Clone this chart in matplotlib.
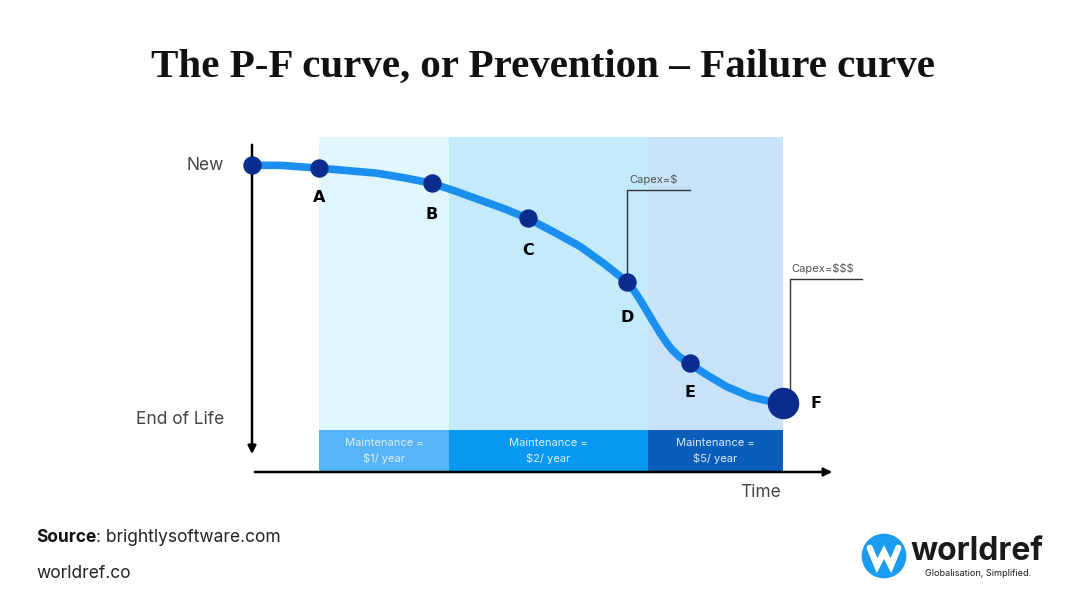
import numpy as np
import matplotlib
matplotlib.use("Agg")
import matplotlib.pyplot as plt
from matplotlib.patches import Circle

# curve samples (time, condition)
curve_t = [0, 5.3, 11.5, 16.8, 21.4, 26.2, 30.8, 34.8, 39.1, 43.4, 47.3, 51.7,
           56.3, 60.3, 64.3, 65.5, 66.6, 68.8, 70.0, 71.1, 72.0, 73.1, 74.1, 75.1,
           76.5, 78.0, 81.4, 85.4, 88.3, 91.1]
curve_c = [91.6, 91.5, 90.7, 89.9, 89.2, 87.8, 86.2, 83.9, 81.2, 78.5, 75.7, 71.7,
           67.3, 62.3, 56.8, 54.2, 51.3, 44.9, 41.5, 38.6, 36.6, 34.7, 33.4, 32.4,
           30.7, 29.0, 25.5, 22.5, 21.3, 20.5]

# named points on the curve
point_names = ["", "A", "B", "C", "D", "E", "F"]
point_t = [0, 11.5, 30.8, 47.3, 64.3, 75.1, 91.1]
point_c = [91.6, 90.7, 86.2, 75.7, 56.8, 32.4, 20.5]

# maintenance phases
band_edges = [11.5, 33.8, 67.9, 91.1]
band_labels = ["Maintenance =\n$1/ year", "Maintenance =\n$2/ year", "Maintenance =\n$5/ year"]
band_colors = ["#dff6fd", "#c3ebfb", "#c7e2f9"]
box_colors = ["#57b5f7", "#0898f0", "#0a5db9"]

capex_labels = ["Capex=$", "Capex=$$$"]

W, H = 1080, 608
fig = plt.figure(figsize=(W / 100, H / 100), dpi=100)
fig.patch.set_facecolor("white")

ax = fig.add_axes([252 / W, 1 - 472 / H, 583 / W, 335 / H])
ax.set_xlim(0, 100)
ax.set_ylim(0, 100)
ax.axis("off")

# background bands and maintenance boxes
widths = np.diff(band_edges)
ax.bar(band_edges[:-1], 100, width=widths, align="edge", color=band_colors, zorder=0)
ax.bar(band_edges[:-1], 12.5, width=widths, align="edge", color=box_colors, zorder=1)
for left, w, lab in zip(band_edges[:-1], widths, band_labels):
    ax.text(left + w / 2, 6.2, lab, ha="center", va="center", fontsize=8,
            family="Inter", color="#dcefff", linespacing=1.5, zorder=2)

# axes arrows
ax.annotate("", xy=(0, 4.5), xytext=(0, 98.5),
            arrowprops=dict(arrowstyle="-|>", color="black", lw=1.8, mutation_scale=12),
            annotation_clip=False, zorder=3)
ax.annotate("", xy=(100, 0), xytext=(0, 0),
            arrowprops=dict(arrowstyle="-|>", color="black", lw=1.8, mutation_scale=12),
            annotation_clip=False, zorder=3)

# capex leader lines
ax.plot([point_t[4], point_t[4], 75.1], [point_c[4], 84.2, 84.2],
        color="#333333", lw=1, zorder=3)
ax.text(64.8, 87.4, capex_labels[0], fontsize=8, family="Inter",
        color="#555555", va="center", ha="left")
ax.plot([92.2, 92.2, 104.6], [22, 57.6, 57.6], color="#333333", lw=1,
        zorder=3, clip_on=False)
ax.text(92.6, 60.6, capex_labels[1], fontsize=8, family="Inter",
        color="#555555", va="center", ha="left", clip_on=False)

# the P-F curve
ax.plot(curve_t, curve_c, color="#1b8ff0", lw=5.5, solid_capstyle="round",
        solid_joinstyle="round", zorder=4, clip_on=False)
ax.scatter(point_t[:-1], point_c[:-1], s=150, color="#0a2c8c", zorder=5, clip_on=False)
ax.scatter(point_t[-1:], point_c[-1:], s=470, color="#0a2c8c", zorder=5, clip_on=False)

label_off = [(0, 0), (0, -8.9), (0, -9.2), (0, -9.7), (0, -10.8), (0, -8.8), (5.6, -0.2)]
for name, t, c, (dx, dy) in zip(point_names, point_t, point_c, label_off):
    if name:
        ax.text(t + dx, c + dy, name, ha="center", va="center", fontsize=11.5,
                fontweight="heavy", family="DejaVu Sans", color="black", zorder=6)

ax.text(-4.8, 91.6, "New", ha="right", va="center", fontsize=12.5,
        family="Inter", color="#444444")
ax.text(-4.8, 15.8, "End of Life", ha="right", va="center", fontsize=12.5,
        family="Inter", color="#444444")
ax.text(87.3, -6.0, "Time", ha="center", va="center", fontsize=12.5,
        family="Inter", color="#444444")

# title and footer
fig.text(0.503, 1 - 67 / H, "The P-F curve, or Prevention \u2013 Failure curve",
         ha="center", va="center", fontsize=29.5, fontweight="bold",
         family="Liberation Serif", color="#111111")
src = fig.text(36 / W, 1 - 538 / H, "Source", ha="left", va="center", fontsize=12.5,
               family="Inter", fontweight="bold", color="#111111")
fig.canvas.draw()
bb = src.get_window_extent()
fig.text(bb.x1 / W, 1 - 538 / H, ": brightlysoftware.com", ha="left", va="center",
         fontsize=12.5, family="Inter", color="#222222")
fig.text(36 / W, 1 - 573 / H, "worldref.co", ha="left", va="center",
         fontsize=12.5, family="Inter", color="#222222")

# logo
lax = fig.add_axes([858 / W, 1 - 582 / H, 52 / W, 52 / H])
lax.set_xlim(-1.2, 1.2)
lax.set_ylim(-1.2, 1.2)
lax.set_aspect("equal")
lax.axis("off")
lax.add_patch(Circle((0, 0), 1.0, color="#1a9cf0"))
lax.plot([-0.66, -0.32, 0.0, 0.32, 0.66], [0.38, -0.45, 0.18, -0.45, 0.38],
         color="white", lw=4.5, solid_capstyle="round", solid_joinstyle="miter")
fig.text(911 / W, 1 - 551 / H, "worldref", ha="left", va="center", fontsize=23,
         fontweight="bold", family="Inter", color="#1a1a1a")
fig.text(978 / W, 1 - 574 / H, "Globalisation, Simplified.", ha="center", va="center",
         fontsize=6.5, family="Inter", color="#1a1a1a")

fig.savefig("out.png", dpi=100)
